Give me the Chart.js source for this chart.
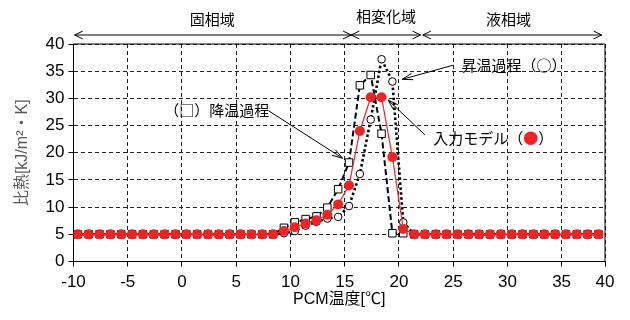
<!DOCTYPE html>
<html>
<head>
<meta charset="utf-8">
<script src="https://cdn.jsdelivr.net/npm/chart.js@4.4.0/dist/chart.umd.min.js"></script>
<style>
  html, body { margin: 0; padding: 0; background: #fff; }
  #wrap { width: 630px; height: 320px; }
</style>
</head>
<body>
<div id="wrap"><canvas id="c" width="630" height="320"></canvas></div>
<script>
// PCM温度 [℃]
const temps = [-9.6, -8.6, -7.6, -6.6, -5.6, -4.6, -3.6, -2.6, -1.6, -0.6,
  0.4, 1.4, 2.4, 3.4, 4.4, 5.4, 6.4, 7.4, 8.4, 9.4,
  10.4, 11.4, 12.4, 13.4, 14.4, 15.4, 16.4, 17.4, 18.4, 19.4,
  20.4, 21.4, 22.4, 23.4, 24.4, 25.4, 26.4, 27.4, 28.4, 29.4,
  30.4, 31.4, 32.4, 33.4, 34.4, 35.4, 36.4, 37.4, 38.4];

// 比熱 [kJ/m2・K]
const inputModel = [5, 5, 5, 5, 5, 5, 5, 5, 5, 5,
  5, 5, 5, 5, 5, 5, 5, 5, 5, 5.6,
  6.3, 7.0, 7.6, 8.6, 10.5, 14.0, 24.0, 30.2, 30.2, 19.2,
  6.0, 5, 5, 5, 5, 5, 5, 5, 5, 5,
  5, 5, 5, 5, 5, 5, 5, 5, 5];
const cooling = [5, 5, 5, 5, 5, 5, 5, 5, 5, 5,
  5, 5, 5, 5, 5, 5, 5, 5, 5, 6.2,
  7.2, 7.8, 8.3, 9.9, 13.3, 18.2, 32.4, 34.3, 23.5, 5.2,
  5.2, 5, 5, 5, 5, 5, 5, 5, 5, 5,
  5, 5, 5, 5, 5, 5, 5, 5, 5];
const heating = [5, 5, 5, 5, 5, 5, 5, 5, 5, 5,
  5, 5, 5, 5, 5, 5, 5, 5, 5, 5.2,
  5.6, 6.6, 7.3, 7.9, 8.2, 10.2, 16.1, 26.1, 37.2, 33.1,
  7.2, 5, 5, 5, 5, 5, 5, 5, 5, 5,
  5, 5, 5, 5, 5, 5, 5, 5, 5];

const xTicks = [-10, -5, 0, 5, 10, 15, 20, 25, 30, 35, 39];
const xTickLabels = ['-10', '-5', '0', '5', '10', '15', '20', '25', '30', '35', '40'];
const yTicks = [0, 5, 10, 15, 20, 25, 30, 35, 40];

// 上部の領域表示
const phaseLabels = ['固相域', '相変化域', '液相域'];
const phaseLabelX = [2.8, 18.8, 30.1];
const phaseFrom = [-9.9, 15.6, 22.2];
const phaseTo = [15.6, 22.0, 38.7];

// 引出し線付きの注記
const calloutText = ['（□）降温過程', '昇温過程（○）', '入力モデル（●）'];
const calloutX = [3.2, 30.6, 28.7];
const calloutY = [27.8, 36.1, 22.7];
const leaderFrom = [[8.0, 27.7], [25.0, 36.1], [22.4, 23.3]];
const leaderTo = [[14.8, 19.0], [20.3, 33.5], [19.0, 29.7]];

const RED = '#ee2424';
const FONT = "'Liberation Sans', 'Noto Sans CJK JP', sans-serif";
const JFONT = "'Noto Sans CJK JP', 'Liberation Sans', sans-serif";

const toPoints = (ys) => temps.map((t, i) => ({ x: t, y: ys[i] }));

function openHead(ctx, x1, y1, x2, y2, len, ang) {
    const a = Math.atan2(y2 - y1, x2 - x1);
    ctx.beginPath();
    ctx.moveTo(x2 - len * Math.cos(a - ang), y2 - len * Math.sin(a - ang));
    ctx.lineTo(x2, y2);
    ctx.lineTo(x2 - len * Math.cos(a + ang), y2 - len * Math.sin(a + ang));
    ctx.stroke();
}

const frame = {
    id: 'frame',
    beforeDatasetsDraw(chart) {
        const { ctx, chartArea: a } = chart;
        ctx.save();
        ctx.strokeStyle = '#000';
        ctx.lineWidth = 1;
        ctx.beginPath();
        ctx.moveTo(a.left, a.top);
        ctx.lineTo(a.right, a.top);
        ctx.lineTo(a.right, a.bottom);
        ctx.stroke();
        ctx.restore();
    }
};

const notes = {
    id: 'notes',
    afterDraw(chart) {
        const { ctx, scales: { x, y } } = chart;
        ctx.save();
        ctx.strokeStyle = '#000';
        ctx.fillStyle = '#000';
        ctx.lineWidth = 1;

        // 領域の矢印とラベル
        const ay = 35;
        ctx.font = '15px ' + JFONT;
        ctx.textAlign = 'center';
        ctx.textBaseline = 'middle';
        phaseLabels.forEach((label, i) => {
            const x1 = x.getPixelForValue(phaseFrom[i]);
            const x2 = x.getPixelForValue(phaseTo[i]);
            ctx.beginPath();
            ctx.moveTo(x1, ay);
            ctx.lineTo(x2, ay);
            ctx.stroke();
            openHead(ctx, x2, ay, x1, ay, 9, 0.45);
            openHead(ctx, x1, ay, x2, ay, 9, 0.45);
            ctx.fillText(label, x.getPixelForValue(phaseLabelX[i]), i === 1 ? 16 : 19);
        });

        // 注記と引出し線
        calloutText.forEach((txt, i) => {
            const x1 = x.getPixelForValue(leaderFrom[i][0]);
            const y1 = y.getPixelForValue(leaderFrom[i][1]);
            const x2 = x.getPixelForValue(leaderTo[i][0]);
            const y2 = y.getPixelForValue(leaderTo[i][1]);
            ctx.beginPath();
            ctx.moveTo(x1, y1);
            ctx.lineTo(x2, y2);
            ctx.stroke();
            openHead(ctx, x1, y1, x2, y2, 11, 0.3);

            const parts = txt.split(/(●)/);
            const w = parts.reduce((s, p) => s + ctx.measureText(p).width, 0);
            let cx = x.getPixelForValue(calloutX[i]) - w / 2;
            const cy = y.getPixelForValue(calloutY[i]);
            ctx.textAlign = 'left';
            parts.forEach(p => {
                ctx.fillStyle = p === '●' ? RED : '#000';
                ctx.fillText(p, cx, cy);
                cx += ctx.measureText(p).width;
            });
        });
        ctx.restore();
    }
};

new Chart(document.getElementById('c'), {
    type: 'scatter',
    data: {
        datasets: [
            {
                label: '入力モデル',
                data: toPoints(inputModel),
                showLine: true,
                borderColor: RED,
                borderWidth: 1.2,
                pointStyle: 'circle',
                pointRadius: 5,
                pointBackgroundColor: RED,
                pointBorderColor: RED,
                pointBorderWidth: 0
            },
            {
                label: '降温過程',
                data: toPoints(cooling),
                showLine: true,
                borderColor: '#000',
                borderWidth: 2,
                borderDash: [6, 3],
                pointStyle: 'rect',
                pointRadius: 5.3,
                pointBackgroundColor: '#fff',
                pointBorderColor: '#000',
                pointBorderWidth: 1
            },
            {
                label: '昇温過程',
                data: toPoints(heating),
                showLine: true,
                borderColor: '#000',
                borderWidth: 2.6,
                borderDash: [2.5, 2.5],
                pointStyle: 'circle',
                pointRadius: 3.8,
                pointBackgroundColor: '#fff',
                pointBorderColor: '#000',
                pointBorderWidth: 1
            }
        ]
    },
    options: {
        responsive: false,
        animation: false,
        events: [],
        layout: { padding: { top: 44, right: 25, left: 0, bottom: 0 } },
        plugins: {
            legend: { display: false },
            tooltip: { enabled: false }
        },
        scales: {
            x: {
                type: 'linear',
                min: -10,
                max: 39,
                afterBuildTicks: (s) => { s.ticks = xTicks.map(v => ({ value: v })); },
                afterFit: (s) => { s.height = 58.5; },
                ticks: {
                    autoSkip: false,
                    maxRotation: 0,
                    padding: 6,
                    color: '#000',
                    font: { family: FONT, size: 17 },
                    callback: (v, i) => xTickLabels[i]
                },
                grid: { color: '#222', tickLength: 5, tickColor: '#000' },
                border: { color: '#000', width: 1, dash: [4, 3] },
                title: {
                    display: true,
                    text: 'PCM温度[℃]',
                    color: '#000',
                    font: { family: FONT, size: 16 },
                    padding: { top: 0, bottom: 11 }
                }
            },
            y: {
                min: 0,
                max: 40,
                afterBuildTicks: (s) => { s.ticks = yTicks.map(v => ({ value: v })); },
                afterFit: (s) => { s.width = 73.5; },
                ticks: {
                    padding: 4,
                    color: '#000',
                    font: { family: FONT, size: 17 }
                },
                grid: { color: '#222', tickLength: 5, tickColor: '#000' },
                border: { color: '#000', width: 1, dash: [4, 3] },
                title: {
                    display: true,
                    text: '比熱[kJ/m²・K]',
                    color: '#595959',
                    font: { family: FONT, size: 16 },
                    padding: { top: 13, bottom: 0 }
                }
            }
        }
    },
    plugins: [frame, notes]
});
</script>
</body>
</html>
